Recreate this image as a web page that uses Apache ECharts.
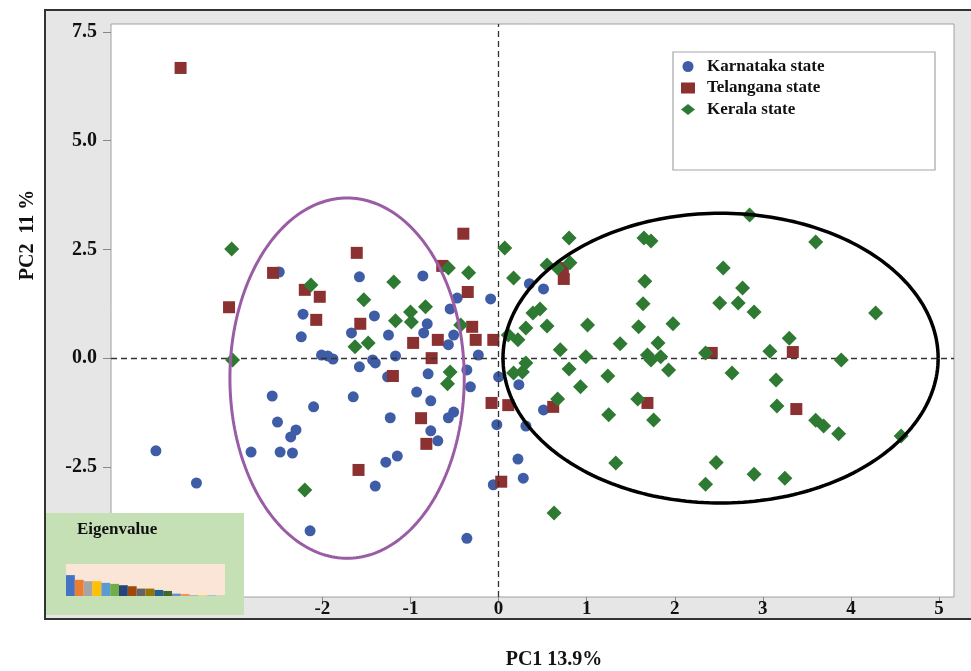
<!DOCTYPE html>
<html>
<head>
<meta charset="utf-8">
<script src="https://cdn.jsdelivr.net/npm/echarts@6/dist/echarts.min.js"></script>
<style>html,body{margin:0;padding:0;background:#fff;}#c{width:971px;height:671px;}</style>
</head>
<body>
<div id="c"></div>
<script>
// ---- data ----
const xTicks = [-2, -1, 0, 1, 2, 3, 4, 5];
const yTicks = [-2.5, 0, 2.5, 5, 7.5];
const karnataka = [
  [-2.49,1.98],[-1.58,1.87],[-0.86,1.89],[-2.22,1.01],[-0.47,1.38],[-0.09,1.36],[-0.55,1.13],
  [-1.41,0.97],[-0.81,0.79],[-1.67,0.58],[-2.24,0.49],[-1.25,0.53],[-0.85,0.58],[-0.51,0.53],
  [-0.57,0.31],[-1.17,0.05],[-2.01,0.07],[-1.94,0.05],[-1.88,-0.02],[-0.23,0.07],[-1.58,-0.20],
  [-1.43,-0.04],[-1.40,-0.11],[-0.80,-0.36],[-1.26,-0.43],[-0.36,-0.27],[-0.32,-0.66],[-0.93,-0.78],
  [-0.77,-0.98],[-1.65,-0.89],[-2.10,-1.12],[-1.23,-1.37],[-0.51,-1.24],[-0.57,-1.37],[-0.77,-1.67],
  [-0.69,-1.90],[-2.57,-0.87],[-2.51,-1.47],[-2.30,-1.65],[-2.36,-1.81],[-2.81,-2.16],[-2.48,-2.16],
  [-2.34,-2.18],[-3.89,-2.13],[-3.43,-2.87],[-1.15,-2.25],[-1.28,-2.39],[-1.40,-2.94],[-2.14,-3.97],
  [-0.36,-4.14],[-0.06,-2.91],[0.00,-0.43],[0.23,-0.61],[0.51,-1.19],[-0.02,-1.53],[0.31,-1.56],
  [0.22,-2.32],[0.28,-2.76],[0.35,1.71],[0.51,1.59]
];
const telangana = [
  [-3.61,6.67],[-3.06,1.17],[-2.56,1.96],[-2.20,1.57],[-2.03,1.41],[-2.07,0.88],[-1.61,2.42],
  [-1.57,0.79],[-1.20,-0.41],[-1.59,-2.57],[-0.40,2.86],[-0.64,2.12],[-0.35,1.52],[-0.30,0.72],
  [-0.69,0.42],[-0.97,0.35],[-0.76,0.00],[-0.26,0.42],[-0.06,0.42],[-0.88,-1.38],[-0.82,-1.97],
  [-0.08,-1.03],[0.11,-1.08],[0.03,-2.84],[0.62,-1.12],[0.74,1.82],[0.73,2.07],[1.69,-1.03],
  [2.42,0.12],[3.34,0.14],[3.38,-1.17]
];
const kerala = [
  [-3.03,2.51],[-3.02,-0.04],[-2.13,1.68],[-1.19,1.75],[-0.34,1.96],[-0.57,2.07],[-1.53,1.34],
  [-0.83,1.18],[-1.00,1.06],[-1.17,0.86],[-0.99,0.83],[-0.43,0.76],[-1.63,0.26],[-1.48,0.35],
  [-0.55,-0.32],[-0.58,-0.59],[-2.20,-3.03],[0.07,2.53],[0.80,2.76],[0.55,2.14],[0.67,2.07],
  [0.81,2.19],[0.17,1.84],[1.65,2.76],[1.73,2.69],[1.66,1.77],[1.64,1.25],[0.39,1.04],[0.47,1.13],
  [0.31,0.69],[0.55,0.74],[1.01,0.76],[1.59,0.72],[1.98,0.79],[0.11,0.53],[0.22,0.42],[0.70,0.19],
  [0.99,0.03],[1.38,0.33],[1.81,0.35],[1.69,0.07],[1.84,0.03],[1.73,-0.04],[1.93,-0.27],[2.35,0.12],
  [0.31,-0.11],[0.27,-0.32],[0.17,-0.34],[0.80,-0.25],[1.24,-0.41],[0.93,-0.66],[0.67,-0.94],
  [1.58,-0.94],[1.25,-1.30],[1.76,-1.42],[1.33,-2.41],[0.63,-3.56],[2.35,-2.90],[2.85,3.29],
  [3.60,2.67],[2.55,2.07],[2.77,1.61],[2.51,1.27],[2.72,1.27],[2.90,1.06],[4.28,1.04],[3.30,0.46],
  [3.08,0.16],[3.89,-0.04],[2.65,-0.34],[3.15,-0.50],[3.16,-1.10],[3.60,-1.43],[3.69,-1.56],
  [3.86,-1.74],[4.57,-1.79],[2.47,-2.40],[2.90,-2.67],[3.25,-2.76]
];
// ellipses: [cx, cy, rx, ry]
const purpleEllipse = [-1.72, -0.46, 1.33, 4.14];
const blackEllipse = [2.52, 0.0, 2.47, 3.33];
const eigenvalues = [3.1, 2.4, 2.2, 2.2, 1.95, 1.8, 1.6, 1.45, 1.1, 1.1, 0.9, 0.75, 0.35, 0.3, 0.15, 0.1, 0.1, 0.05];
const eigenColors = ['#4472C4','#ED7D31','#A5A5A5','#FFC000','#5B9BD5','#70AD47','#264478','#9E480E','#636363','#997300','#255E91','#43682B','#698ED0','#F1975A','#B7B7B7','#FFCD33','#7CAFDD','#8CC168'];

function ellipsePts(e) {
  const pts = [];
  for (let i = 0; i <= 240; i++) {
    const t = i / 240 * Math.PI * 2;
    pts.push([e[0] + e[2] * Math.cos(t), e[1] + e[3] * Math.sin(t)]);
  }
  return pts;
}

const FONT = 'Liberation Serif';
const chart = echarts.init(document.getElementById('c'), null, {renderer: 'canvas'});
chart.setOption({
  animation: false,
  backgroundColor: '#ffffff',
  graphic: [
    {type: 'rect', z: -10, shape: {x: 45, y: 10, width: 940, height: 609},
     style: {fill: '#E6E6E6', stroke: '#333333', lineWidth: 2}},
    {type: 'rect', z: 3, shape: {x: 673, y: 52, width: 262, height: 118},
     style: {fill: '#ffffff', stroke: '#A6A6A6', lineWidth: 1.2}},
    {type: 'rect', z: 50, shape: {x: 46, y: 513, width: 198, height: 102},
     style: {fill: '#C5E0B4'}},
    {type: 'text', z: 51, x: 77, y: 530,
     style: {text: 'Eigenvalue', fill: '#111', font: 'bold 17px "Liberation Serif"', textVerticalAlign: 'middle'}},
    {type: 'text', z: 51, x: 554, y: 660,
     style: {text: 'PC1 13.9%', fill: '#111', font: 'bold 20px "Liberation Serif"', textAlign: 'center', textVerticalAlign: 'middle'}},
    {type: 'text', z: 51, x: 28, y: 235, rotation: Math.PI / 2,
     style: {text: 'PC2  11 %', fill: '#111', font: 'bold 20px "Liberation Serif"', textAlign: 'center', textVerticalAlign: 'middle'}}
  ],
  legend: {
    left: 681, top: 58, orient: 'vertical', itemGap: 4.5, itemWidth: 14, itemHeight: 11, padding: 0,
    z: 5,
    textStyle: {fontFamily: FONT, fontWeight: 'bold', fontSize: 17, lineHeight: 17, color: '#111', padding: [0, 0, 0, 7]},
    data: [
      {name: 'Karnataka state', icon: 'circle'},
      {name: 'Telangana state', icon: 'rect'},
      {name: 'Kerala state', icon: 'diamond'}
    ]
  },
  grid: [
    {left: 111, top: 24, width: 843, height: 573, show: true, backgroundColor: '#ffffff', borderColor: '#A0A0A0', borderWidth: 1, z: 0},
    {left: 66, top: 564, width: 159, height: 32, show: true, backgroundColor: '#FBE5D6', borderWidth: 0, z: 60}
  ],
  xAxis: [
    {type: 'value', gridIndex: 0, min: -4.4, max: 5.17, splitLine: {show: false},
     axisLine: {show: false, onZero: false},
     axisTick: {show: true, length: 6, customValues: xTicks, lineStyle: {color: '#888'}},
     axisLabel: {customValues: xTicks, margin: 3, fontFamily: FONT, fontWeight: 'bold', fontSize: 19, color: '#111',
       formatter: v => String(v)}},
    {type: 'category', gridIndex: 1, data: eigenvalues.map((_, i) => 'PC' + (i + 1)), show: false}
  ],
  yAxis: [
    {type: 'value', gridIndex: 0, min: -5.49, max: 7.68, splitLine: {show: false},
     axisLine: {show: false, onZero: false},
     axisTick: {show: true, length: 8, customValues: yTicks, lineStyle: {color: '#888'}},
     axisLabel: {customValues: yTicks, margin: 14, fontFamily: FONT, fontWeight: 'bold', fontSize: 20, color: '#111',
       formatter: v => v.toFixed(1)}},
    {type: 'value', gridIndex: 1, min: 0, max: 4.75, show: false}
  ],
  series: [
    {name: 'axes0', type: 'line', data: [], xAxisIndex: 0, yAxisIndex: 0, silent: true,
     markLine: {silent: true, symbol: 'none', label: {show: false},
       lineStyle: {color: '#333', type: [6, 4], width: 1.3},
       data: [{xAxis: 0}, {yAxis: 0}]}},
    {name: 'Karnataka state', type: 'scatter', symbol: 'circle', symbolSize: 11, data: karnataka, z: 3,
     itemStyle: {color: '#3F5DA6', opacity: 1}},
    {name: 'Telangana state', type: 'scatter', symbol: 'rect', symbolSize: 12, data: telangana, z: 4,
     itemStyle: {color: '#8C3131', opacity: 1}},
    {name: 'Kerala state', type: 'scatter', symbol: 'diamond', symbolSize: 15, data: kerala, z: 5,
     itemStyle: {color: '#2F7A32', opacity: 1}},
    {name: 'ell1', type: 'line', data: ellipsePts(purpleEllipse), showSymbol: false, symbol: 'none', z: 6, silent: true,
     lineStyle: {color: '#9B5CA6', width: 3}},
    {name: 'ell2', type: 'line', data: ellipsePts(blackEllipse), showSymbol: false, symbol: 'none', z: 6, silent: true,
     lineStyle: {color: '#000000', width: 3.5}},
    {name: 'eig', type: 'bar', xAxisIndex: 1, yAxisIndex: 1, barCategoryGap: 0, z: 61,
     data: eigenvalues.map((v, i) => ({value: v, itemStyle: {color: eigenColors[i]}}))}
  ]
});
</script>
</body>
</html>
